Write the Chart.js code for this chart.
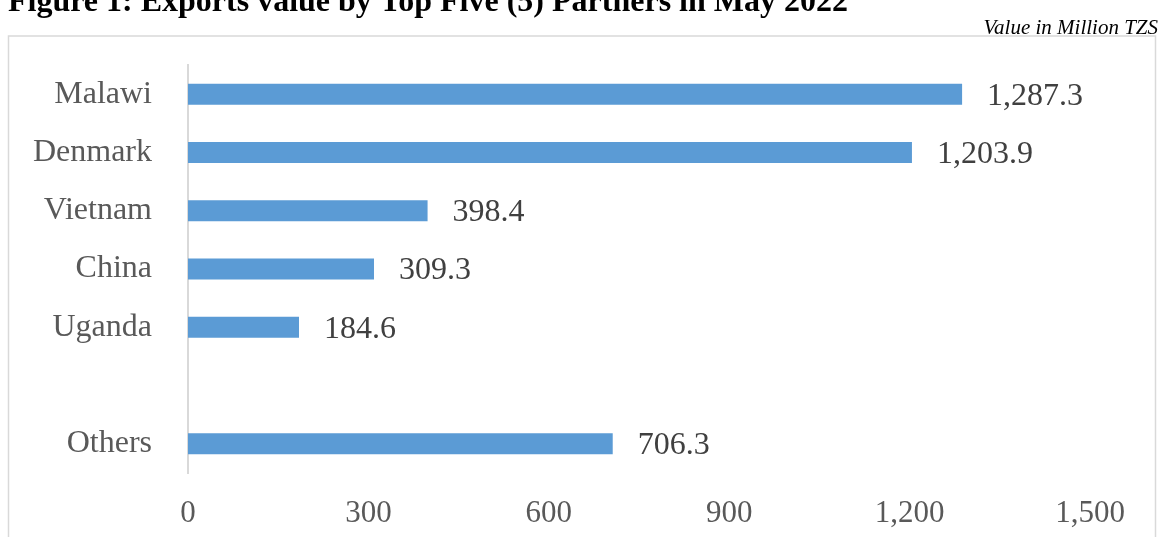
<!DOCTYPE html>
<html>
<head>
<meta charset="utf-8">
<script src="https://cdn.jsdelivr.net/npm/chart.js@4/dist/chart.umd.min.js"></script>
<style>
  html, body { margin: 0; padding: 0; background: #fff; }
  #wrap { width: 1160px; height: 537px; position: relative; }
</style>
</head>
<body>
<div id="wrap"><canvas id="myChart" width="1160" height="537"></canvas></div>
<script>
// data
var partners = ['Malawi', 'Denmark', 'Vietnam', 'China', 'Uganda', '', 'Others'];
var exportValues = [1287.3, 1203.9, 398.4, 309.3, 184.6, null, 706.3];
var xTicks = [0, 300, 600, 900, 1200, 1500];

var titleText = 'Figure 1: Exports value by Top Five (5) Partners in May 2022';
var unitText = 'Value in Million TZS';

var serif = '"Liberation Serif", "Times New Roman", serif';

// frame, title and unit note
var framePlugin = {
    id: 'frame',
    beforeDraw: function (chart) {
        var ctx = chart.ctx;
        ctx.save();
        ctx.fillStyle = '#fff';
        ctx.fillRect(0, 0, chart.width, chart.height);
        ctx.strokeStyle = '#d9d9d9';
        ctx.lineWidth = 1.5;
        ctx.strokeRect(8.5, 36, 1147, 520);

        ctx.fillStyle = '#000';
        ctx.font = 'bold 32px ' + serif;
        ctx.textBaseline = 'alphabetic';
        ctx.textAlign = 'left';
        ctx.fillText(titleText, 8, 11);

        ctx.font = 'italic 21px ' + serif;
        ctx.textAlign = 'right';
        ctx.fillText(unitText, 1158, 34);
        ctx.restore();
    }
};

// value labels at the end of each bar
var valueLabels = {
    id: 'valueLabels',
    afterDatasetsDraw: function (chart) {
        var ctx = chart.ctx;
        var meta = chart.getDatasetMeta(0);
        ctx.save();
        ctx.font = '32px ' + serif;
        ctx.fillStyle = '#404040';
        ctx.textAlign = 'left';
        ctx.textBaseline = 'middle';
        meta.data.forEach(function (bar, i) {
            var v = exportValues[i];
            if (v === null) return;
            var txt = v.toLocaleString('en-US', { minimumFractionDigits: 1, maximumFractionDigits: 1 });
            ctx.fillText(txt, bar.x + 25, bar.y + 2);
        });
        ctx.restore();
    }
};

var ctx = document.getElementById('myChart').getContext('2d');
var myChart = new Chart(ctx, {
    type: 'bar',
    data: {
        labels: partners,
        datasets: [{
            label: 'Exports',
            data: exportValues,
            backgroundColor: '#5b9bd5',
            barPercentage: 0.9,
            categoryPercentage: 0.4
        }]
    },
    options: {
        indexAxis: 'y',
        responsive: false,
        animation: false,
        devicePixelRatio: 1,
        layout: {
            padding: { left: 0, right: 70, top: 65, bottom: 0 }
        },
        scales: {
            x: {
                min: 0,
                max: 1500,
                afterBuildTicks: function (scale) {
                    scale.ticks = xTicks.map(function (v) { return { value: v }; });
                },
                afterFit: function (scale) { scale.height = 64; },
                grid: { display: false, drawTicks: false },
                border: { display: false },
                ticks: {
                    padding: 22,
                    color: '#595959',
                    font: { family: serif, size: 31 },
                    maxRotation: 0,
                    callback: function (v) { return v.toLocaleString('en-US'); }
                }
            },
            y: {
                afterFit: function (scale) { scale.width = 188; },
                grid: { display: false, drawTicks: false },
                border: { display: true, color: '#d9d9d9', width: 2 },
                ticks: {
                    padding: 36,
                    color: '#595959',
                    font: { family: serif, size: 32 }
                }
            }
        },
        plugins: {
            legend: { display: false },
            tooltip: { enabled: false },
            title: { display: false }
        }
    },
    plugins: [framePlugin, valueLabels]
});
</script>
</body>
</html>
